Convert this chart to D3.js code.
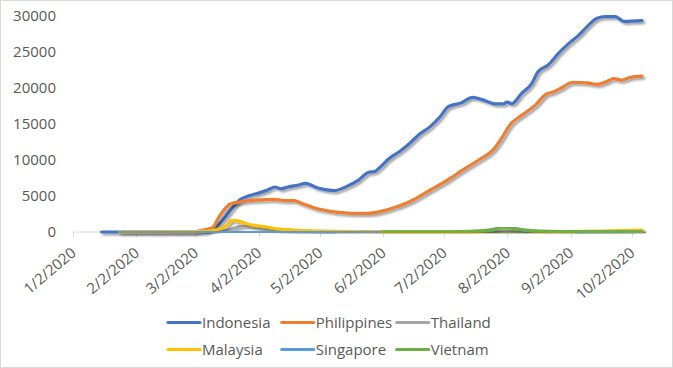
<!DOCTYPE html>
<html><head><meta charset="utf-8">
<script src="https://cdn.jsdelivr.net/npm/d3@7"></script>
<style>
html,body{margin:0;padding:0;background:#fff;}
svg{display:block;font-family:"Open Sans",sans-serif;}
</style></head>
<body><svg id="c" width="673" height="368"></svg>
<script>
const seriesNames = ["Indonesia","Philippines","Thailand","Malaysia","Singapore","Vietnam"];
const seriesColors = ["#4472C4","#ED7D31","#A5A5A5","#FFC000","#5B9BD5","#70AD47"];
const yTicks = [0,5000,10000,15000,20000,25000,30000];
const xTickLabels = ["1/2/2020","2/2/2020","3/2/2020","4/2/2020","5/2/2020","6/2/2020","7/2/2020","8/2/2020","9/2/2020","10/2/2020"];

const indonesiaDates = ["2020-01-16","2020-03-06","2020-03-11","2020-03-15","2020-03-17","2020-03-20","2020-03-24","2020-03-28","2020-04-02","2020-04-07","2020-04-10","2020-04-13","2020-04-17","2020-04-21","2020-04-25","2020-05-01","2020-05-09","2020-05-15","2020-05-21","2020-05-26","2020-05-29","2020-05-31","2020-06-05","2020-06-10","2020-06-15","2020-06-20","2020-06-25","2020-06-30","2020-07-04","2020-07-10","2020-07-16","2020-07-21","2020-07-27","2020-07-31","2020-08-02","2020-08-04","2020-08-09","2020-08-14","2020-08-17","2020-08-22","2020-08-27","2020-09-02","2020-09-06","2020-09-10","2020-09-15","2020-09-19","2020-09-24","2020-09-28","2020-10-07"];
const indonesiaValues = [0,0,500,1500,2200,3300,4500,5000,5400,5900,6250,6000,6300,6500,6750,6100,5750,6300,7200,8300,8400,8850,10200,11150,12300,13600,14600,16000,17400,17900,18700,18350,17800,17800,18050,17800,19250,20650,22250,23200,24800,26400,27350,28500,29700,29900,29900,29250,29350];

const philippinesDates = ["2020-01-25","2020-03-01","2020-03-04","2020-03-08","2020-03-11","2020-03-13","2020-03-16","2020-03-19","2020-03-24","2020-03-27","2020-04-02","2020-04-09","2020-04-12","2020-04-16","2020-04-19","2020-04-23","2020-05-02","2020-05-10","2020-05-18","2020-05-26","2020-06-05","2020-06-15","2020-06-25","2020-07-05","2020-07-11","2020-07-19","2020-07-26","2020-07-31","2020-08-03","2020-08-09","2020-08-16","2020-08-21","2020-08-24","2020-08-29","2020-09-03","2020-09-10","2020-09-15","2020-09-20","2020-09-23","2020-09-27","2020-10-01","2020-10-07"];
const philippinesValues = [0,0,150,400,740,1800,3050,3850,4200,4330,4450,4540,4450,4350,4400,4000,3150,2750,2600,2600,3150,4200,5800,7450,8600,10000,11400,13400,14800,16200,17700,19150,19400,20100,20800,20700,20500,20950,21300,21100,21450,21650];

const thailandDates = ["2020-01-25","2020-03-10","2020-03-15","2020-03-20","2020-03-24","2020-03-28","2020-04-02","2020-04-08","2020-04-15","2020-04-25","2020-05-10","2020-06-10","2020-10-07"];
const thailandValues = [0,0,100,400,800,900,700,400,200,80,20,10,10];

const malaysiaDates = ["2020-01-25","2020-03-06","2020-03-11","2020-03-17","2020-03-20","2020-03-24","2020-03-27","2020-04-01","2020-04-06","2020-04-09","2020-04-19","2020-05-02","2020-05-17","2020-06-10","2020-07-30","2020-08-29","2020-09-18","2020-10-07"];
const malaysiaValues = [0,50,250,800,1650,1450,1150,870,700,520,280,130,50,20,30,60,140,260];

const singaporeDates = ["2020-01-25","2020-03-15","2020-04-15","2020-05-15","2020-06-15","2020-08-01","2020-10-07"];
const singaporeValues = [0,20,40,40,30,20,20];

const vietnamDates = ["2020-06-02","2020-07-05","2020-07-15","2020-07-25","2020-07-31","2020-08-04","2020-08-10","2020-08-18","2020-08-28","2020-10-07"];
const vietnamValues = [10,30,100,300,600,550,300,120,50,40];

const seriesDates = [indonesiaDates, philippinesDates, thailandDates, malaysiaDates, singaporeDates, vietnamDates];
const seriesValues = [indonesiaValues, philippinesValues, thailandValues, malaysiaValues, singaporeValues, vietnamValues];

const parse = d3.utcParse("%Y-%m-%d");
const svg = d3.select("#c");

// chart border
svg.append("rect").attr("x",0.5).attr("y",0.5).attr("width",672).attr("height",367)
  .attr("fill","#fff").attr("stroke","#d9d9d9");

const defs = svg.append("defs");
const f = defs.append("filter").attr("id","sh").attr("x","-5%").attr("y","-5%").attr("width","110%").attr("height","120%");
f.append("feDropShadow").attr("dx",2).attr("dy",2).attr("stdDeviation",1.2)
  .attr("flood-color","#000").attr("flood-opacity",0.38);

const x = d3.scaleUtc().domain([parse("2020-01-02"), parse("2020-10-07")]).range([73, 642]);
const y = d3.scaleLinear().domain([0, 30000]).range([232, 16]);

// y labels
svg.append("g").selectAll("text").data(yTicks).join("text")
  .attr("x",56).attr("y",d=>y(d)).attr("dy","0.35em").attr("text-anchor","end")
  .attr("font-size",15).attr("fill","#595959").text(d=>d);

// x axis line and ticks
const tickDates = xTickLabels.map(s => { const [m,d,yr] = s.split("/"); return new Date(Date.UTC(+yr, +m-1, +d)); });
svg.append("line").attr("x1",x.range()[0]).attr("x2",x.range()[1]).attr("y1",y(0)).attr("y2",y(0))
  .attr("stroke","#d9d9d9").attr("stroke-width",1);
svg.append("g").selectAll("line").data(tickDates).join("line")
  .attr("x1",d=>Math.round(x(d))+0.5).attr("x2",d=>Math.round(x(d))+0.5).attr("y1",y(0)).attr("y2",y(0)+5)
  .attr("stroke","#d9d9d9");
svg.append("g").selectAll("text").data(tickDates).join("text")
  .attr("transform",(d)=>`translate(${x(d)+4},${254.5}) rotate(-40)`)
  .attr("text-anchor","end").attr("font-size",15).attr("fill","#595959")
  .text((d,i)=>xTickLabels[i]);

// series lines
const line = d3.line().x(d=>x(d[0])).y(d=>y(d[1])).curve(d3.curveMonotoneX);
const g = svg.append("g");
seriesNames.forEach((name,i)=>{
  const pts = seriesDates[i].map((s,j)=>[parse(s), seriesValues[i][j]]);
  g.append("path").datum(pts).attr("d",line).attr("fill","none")
    .attr("stroke",seriesColors[i]).attr("stroke-width",3.2).attr("stroke-linejoin","round")
    .attr("stroke-linecap","round").attr("filter","url(#sh)");
});

// legend
const legX = [168, 281.7, 396.7];
const legY = [322.5, 349.5];
const lg = svg.append("g");
seriesNames.forEach((name,i)=>{
  const cx = legX[i%3], cy = legY[Math.floor(i/3)];
  lg.append("line").attr("x1",cx).attr("x2",cx+32).attr("y1",cy).attr("y2",cy)
    .attr("stroke",seriesColors[i]).attr("stroke-width",3.2).attr("stroke-linecap","round");
  lg.append("text").attr("x",cx+34).attr("y",cy).attr("dy","0.35em").attr("font-size",15)
    .attr("fill","#595959").text(name);
});
</script></body></html>
